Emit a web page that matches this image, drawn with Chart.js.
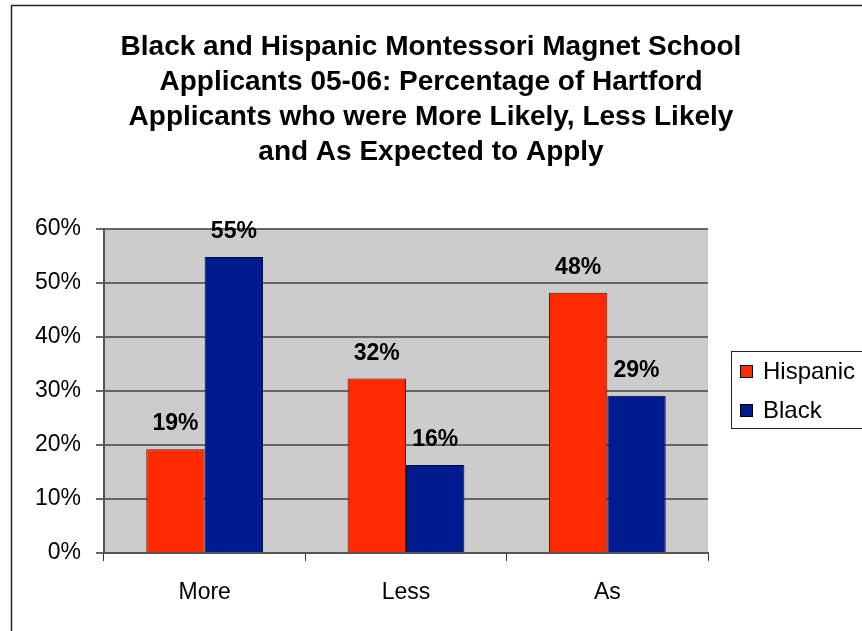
<!DOCTYPE html>
<html>
<head>
<meta charset="utf-8">
<script src="https://cdn.jsdelivr.net/npm/chart.js@4/dist/chart.umd.min.js"></script>
<style>
  html, body { margin: 0; padding: 0; background: #fff; }
  #wrap { width: 862px; height: 631px; }
</style>
</head>
<body>
<div id="wrap"><canvas id="myChart" width="862" height="631"></canvas></div>
<script>
const categories = ["More", "Less", "As"];
const hispanic = [19.2, 32.3, 48.2];
const black = [54.8, 16.3, 29.1];
const yTicks = [0, 10, 20, 30, 40, 50, 60];
const titleLines = [
  "Black and Hispanic Montessori Magnet School",
  "Applicants 05-06: Percentage of Hartford",
  "Applicants who were More Likely, Less Likely",
  "and As Expected to Apply",
];

const fontName = "'Liberation Sans', Arial, sans-serif";

// grey plot background + outer frame
const backdrop = {
  id: "backdrop",
  beforeDraw(chart) {
    const { ctx, chartArea } = chart;
    ctx.save();
    ctx.fillStyle = "#fff";
    ctx.fillRect(0, 0, chart.width, chart.height);
    ctx.strokeStyle = "#222";
    ctx.lineWidth = 1.5;
    ctx.strokeRect(11.5, 5.5, 900, 700);
    ctx.fillStyle = "#cccccc";
    ctx.fillRect(chartArea.left, chartArea.top, chartArea.right - chartArea.left, chartArea.bottom - chartArea.top);
    ctx.restore();
  },
};

// title, centred on the whole picture
const titleBlock = {
  id: "titleBlock",
  afterDraw(chart) {
    const { ctx } = chart;
    ctx.save();
    ctx.fillStyle = "#000";
    ctx.font = "bold 28px " + fontName;
    ctx.textAlign = "center";
    ctx.textBaseline = "middle";
    titleLines.forEach((line, i) => {
      ctx.fillText(line, 431, 47 + i * 35);
    });
    ctx.restore();
  },
};

// value labels above the bars
const valueLabels = {
  id: "valueLabels",
  afterDatasetsDraw(chart) {
    const { ctx } = chart;
    ctx.save();
    ctx.fillStyle = "#000";
    ctx.font = "bold 23px " + fontName;
    ctx.textAlign = "center";
    ctx.textBaseline = "alphabetic";
    chart.data.datasets.forEach((ds, i) => {
      chart.getDatasetMeta(i).data.forEach((bar, j) => {
        ctx.fillText(Math.round(ds.data[j]) + "%", bar.x, bar.y - 19);
      });
    });
    ctx.restore();
  },
};

// legend box on the right
const sideLegend = {
  id: "sideLegend",
  afterDraw(chart) {
    const { ctx } = chart;
    ctx.save();
    ctx.fillStyle = "#fff";
    ctx.fillRect(732, 352, 140, 77);
    ctx.strokeStyle = "#222";
    ctx.lineWidth = 1;
    ctx.strokeRect(731.5, 351.5, 140, 77);
    ctx.font = "24px " + fontName;
    ctx.textBaseline = "middle";
    chart.data.datasets.forEach((ds, i) => {
      const y = 371 + i * 39;
      ctx.fillStyle = ds.backgroundColor;
      ctx.fillRect(740, y - 6, 13, 13);
      ctx.strokeStyle = "#000";
      ctx.strokeRect(740.5, y - 5.5, 12, 12);
      ctx.fillStyle = "#000";
      ctx.fillText(ds.label, 763, y + 1);
    });
    ctx.restore();
  },
};

const data = {
  labels: categories,
  datasets: [
    {
      label: "Hispanic",
      data: hispanic,
      backgroundColor: "#ff2a00",
      borderColor: "#5a1000",
      borderWidth: 1,
    },
    {
      label: "Black",
      data: black,
      backgroundColor: "#001a90",
      borderColor: "#000830",
      borderWidth: 1,
    },
  ],
};

const config = {
  type: "bar",
  data: data,
  plugins: [backdrop, valueLabels, sideLegend, titleBlock],
  options: {
    responsive: false,
    animation: false,
    devicePixelRatio: 1,
    layout: { padding: { left: 0, right: 154, top: 229, bottom: 0 } },
    datasets: {
      bar: { categoryPercentage: 0.58, barPercentage: 1.0 },
    },
    plugins: {
      legend: { display: false },
      tooltip: { enabled: false },
      title: { display: false },
    },
    scales: {
      x: {
        grid: {
          drawOnChartArea: false,
          drawTicks: true,
          tickLength: 8,
          color: "#333",
          offset: true,
        },
        border: { color: "#555", width: 2 },
        ticks: {
          color: "#000",
          font: { family: fontName, size: 23 },
          padding: 18,
        },
        afterFit(scale) {
          scale.height = 78;
        },
      },
      y: {
        min: 0,
        max: 60,
        afterBuildTicks(scale) {
          scale.ticks = yTicks.map((v) => ({ value: v }));
        },
        grid: {
          color: "#666",
          lineWidth: 2,
          tickLength: 8,
        },
        border: { color: "#555", width: 2 },
        ticks: {
          color: "#000",
          font: { family: fontName, size: 23 },
          padding: 15,
          callback: function (value) {
            return value + "%";
          },
        },
        afterFit(scale) {
          scale.width = 104;
        },
      },
    },
  },
};

const chartOne = new Chart(document.getElementById("myChart"), config);
</script>
</body>
</html>
